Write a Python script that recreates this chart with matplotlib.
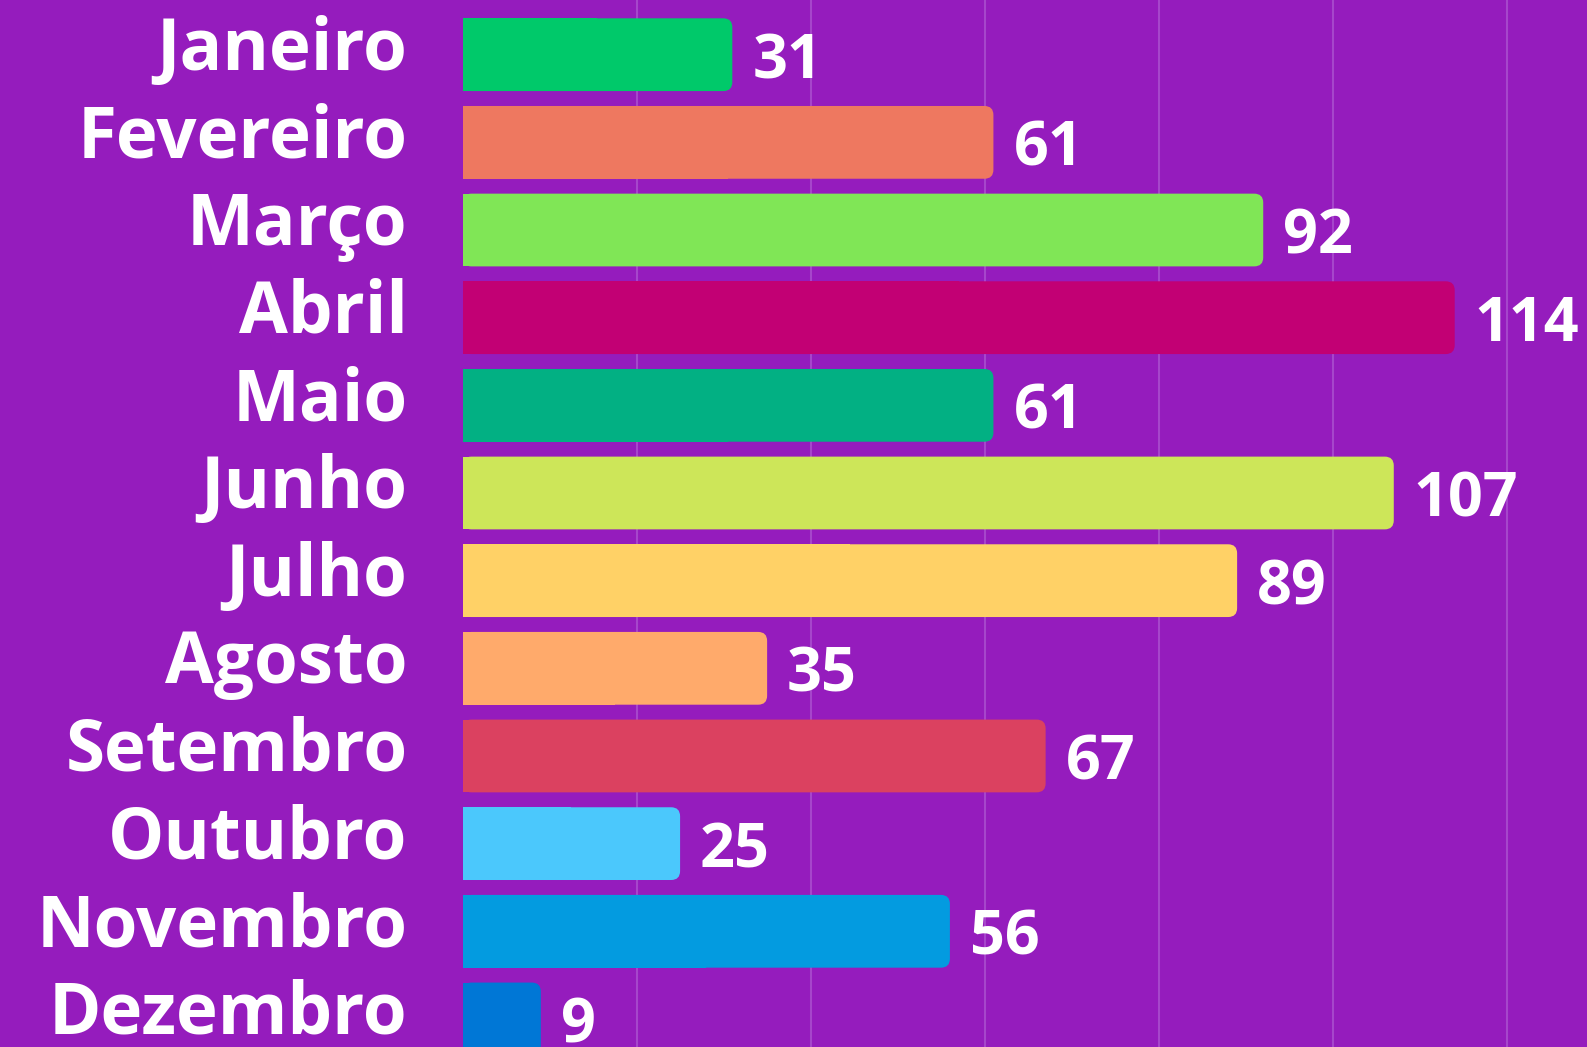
import numpy as np
import matplotlib.pyplot as plt
from matplotlib.patches import FancyBboxPatch

# Data
meses = ["Janeiro", "Fevereiro", "Março", "Abril", "Maio", "Junho",
         "Julho", "Agosto", "Setembro", "Outubro", "Novembro", "Dezembro"]
valores = [31, 61, 92, 114, 61, 107, 89, 35, 67, 25, 56, 9]
cores = ["#00C96A", "#EE7860", "#80E656", "#C20074", "#02B083", "#CDE659",
         "#FFD166", "#FFAA6B", "#DB4160", "#4BC8FC", "#039BE0", "#0077D6"]

fundo = "#951CBD"
W, H, dpi = 1587, 1047, 100

fig = plt.figure(figsize=(W / dpi, H / dpi), dpi=dpi, facecolor=fundo)
ax = fig.add_axes([462.5 / W, 0, 1 - 462.5 / W, 1])
ax.set_facecolor(fundo)

xmax = 129.2
ax.set_xlim(0, xmax)
ax.set_ylim(11.32, -0.624)

# px -> data units, used for the rounded corners
px_x = xmax / (W - 462.5)
px_y = (11.32 + 0.624) / H
raio = 9 * px_x
h = 0.83

for i, (m, v, c) in enumerate(zip(meses, valores, cores)):
    # square left half, rounded right end
    ax.barh(i, v / 2, height=h, color=c, zorder=3)
    p = FancyBboxPatch((0, i - h / 2), v, h,
                       boxstyle="round,pad=0,rounding_size=%f" % raio,
                       mutation_aspect=px_y / px_x,
                       fc=c, ec="none", zorder=3)
    ax.add_patch(p)
    ax.annotate(str(v), (v, i), xytext=(20, -8), textcoords="offset pixels",
                ha="left", va="center", color="white", fontsize=44,
                fontfamily="Open Sans", fontweight="bold", zorder=4,
                annotation_clip=False)
    ax.annotate(m, (0, i), xytext=(-55, 4), textcoords="offset pixels",
                ha="right", va="center", color="white", fontsize=51,
                fontfamily="Open Sans", fontweight="bold",
                annotation_clip=False)

for gx in [20, 40, 60, 80, 100, 120]:
    ax.axvline(gx, color="#A646CB", lw=1.5, zorder=1)

ax.set_xticks([])
ax.set_yticks([])
for s in ax.spines.values():
    s.set_visible(False)

fig.savefig("out.png", dpi=dpi, facecolor=fundo)
